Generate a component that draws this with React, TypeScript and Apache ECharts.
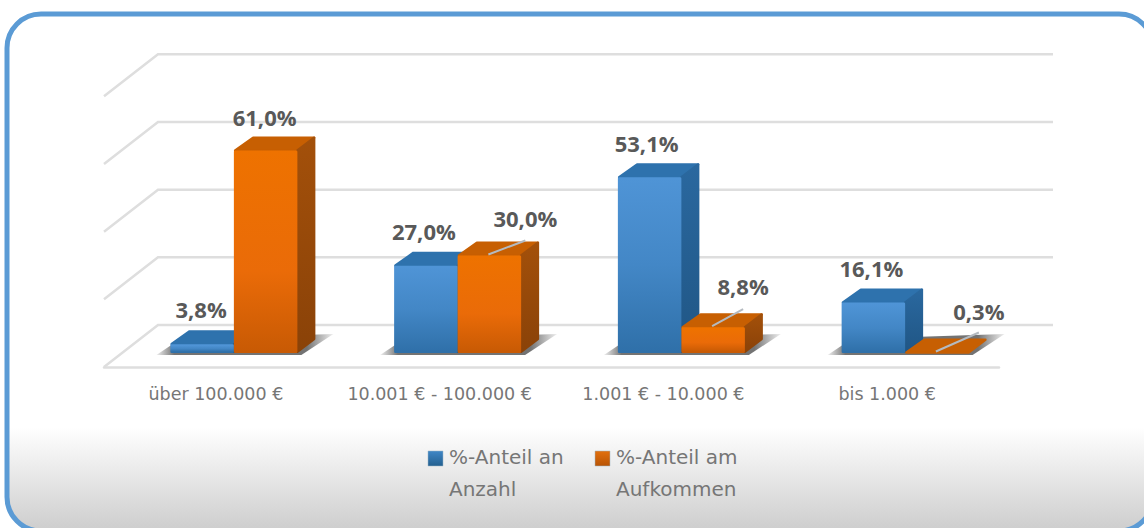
import React, { useEffect, useRef } from "react";
import * as echarts from "echarts";

const categories = ["über 100.000 €", "10.001 € - 100.000 €", "1.001 € - 10.000 €", "bis 1.000 €"];
const anzahl = [3.8, 27.0, 53.1, 16.1];
const aufkommen = [61.0, 30.0, 8.8, 0.3];
const legendLines = [["%-Anteil an", "Anzahl"], ["%-Anteil am", "Aufkommen"]];
const yTicks = [0, 20, 40, 60, 80];

// label placement, relative to the top-front centre of each bar
const anzahlLabelDx = [-1, -2, -3, -2];
const anzahlLabelDy = [-35, -35, -34, -35];
const aufkommenLabelDx = [-1, 36, 30, 42];
const aufkommenLabelDy = [-34, -37, -41, -42];
// leader-line ends for the labels moved away from their bars (null = none)
const aufkommenLeader: (number[] | null)[] = [null, [36, -15], [30, -18], [42, -20]];

const LABEL_FONT = "'Open Sans'";
const TEXT_FONT = "DejaVu Sans";
const TEXT = "#595959";
const SOFT_TEXT = "#767676";
const DEPTH_X = 54;
const DEPTH_Y = 42;
const BAR_DX = 18;
const BAR_DY = 14;
const BAR_W = 63.5;
const TOP_INSET = 4;

const grad = (stops: [number, string][]) => ({
  type: "linear", x: 0, y: 0, x2: 0, y2: 1,
  colorStops: stops.map(([offset, color]) => ({ offset, color })),
});

const palettes = [
  {
    front: grad([[0, "#4f94d6"], [0.5, "#4387c6"], [1, "#2f70a9"]]),
    top: "#2e72ad",
    side: grad([[0, "#2a689f"], [1, "#205685"]]),
  },
  {
    front: grad([[0, "#ee7200"], [0.6, "#ea6b08"], [1, "#c85a04"]]),
    top: "#c75f02",
    side: grad([[0, "#a3500a"], [1, "#8a4208"]]),
  },
];

const poly = (points: number[][], fill: any) => ({
  type: "polygon",
  shape: { points },
  style: { fill, stroke: fill, lineWidth: 2.5, lineJoin: "round" },
});

function barSeries(name: string, values: number[], idx: number, dxs: number[], dys: number[], leaders: (number[] | null)[]) {
  const pal = palettes[idx];
  return {
    type: "custom",
    name,
    silent: true,
    data: values.map((v, i) => [i, v]),
    encode: { x: 0, y: 1 },
    renderItem: (_: any, api: any) => {
      const i = api.value(0);
      const v = api.value(1);
      const top = api.coord([i, v]);
      const base = api.coord([i, 0]);
      const x0 = base[0] + BAR_DX + (idx === 0 ? -BAR_W : 0);
      const x1 = x0 + BAR_W;
      const yb = base[1] - BAR_DY;
      const yt = Math.min(top[1] - BAR_DY + TOP_INSET, yb - 0.5);
      const s = 1.25;
      const children: any[] = [
        poly([[x0 + s, yt], [x0 + BAR_DX + s, yt - BAR_DY + s], [x1 + BAR_DX - s, yt - BAR_DY + s], [x1, yt]], pal.top),
      ];
      if (yb - yt > 3) {
        children.push(poly([[x1, yt], [x1 + BAR_DX - s, yt - BAR_DY + s], [x1 + BAR_DX - s, yb - BAR_DY], [x1, yb - s]], pal.side));
        children.push(poly([[x0 + s, yt + s], [x1 - s, yt + s], [x1 - s, yb - s], [x0 + s, yb - s]], pal.front));
      }
      const cx = (x0 + x1) / 2;
      const leader = leaders[i];
      if (leader) {
        children.push({
          type: "line",
          shape: { x1: cx - 1, y1: yt - 1, x2: cx + leader[0], y2: yt + leader[1] },
          style: { stroke: "#b4bac0", lineWidth: 2 },
        });
      }
      children.push({
        type: "text",
        x: cx + dxs[i],
        y: yt + dys[i],
        style: {
          text: v.toFixed(1).replace(".", ",") + "%",
          fill: TEXT,
          font: `bold 22px ${LABEL_FONT}`,
          align: "center",
          verticalAlign: "middle",
        },
      });
      return { type: "group", children };
    },
  };
}

function legendItem(x: number, lines: string[], color: string, dark: string) {
  return {
    type: "group",
    children: [
      {
        type: "rect",
        shape: { x, y: 451, width: 15, height: 15 },
        style: { fill: { type: "linear", x: 0, y: 0, x2: 0, y2: 1, colorStops: [{ offset: 0, color }, { offset: 1, color: dark }] }, stroke: "#9fb4c6", lineWidth: 0.5 },
      },
      {
        type: "text",
        x: x + 21,
        y: 457,
        style: { text: lines[0], fill: SOFT_TEXT, font: `20px '${TEXT_FONT}'`, verticalAlign: "middle" },
      },
      {
        type: "text",
        x: x + 21,
        y: 489,
        style: { text: lines[1], fill: SOFT_TEXT, font: `20px '${TEXT_FONT}'`, verticalAlign: "middle" },
      },
    ],
  };
}

export default function App() {
  const ref = useRef<HTMLDivElement>(null);
  useEffect(() => {
    document.body.style.margin = "0";
    const chart = echarts.init(ref.current!, undefined, { renderer: "svg" });
    chart.setOption({
      animation: false,
      backgroundColor: "#ffffff",
      textStyle: { fontFamily: TEXT_FONT },
      grid: { left: 104, right: 145, top: 96.3, height: 270.7, containLabel: false },
      xAxis: {
        type: "category",
        data: categories,
        axisLine: { show: true, lineStyle: { color: "#dedede", width: 2.5 } },
        axisTick: { show: false },
        splitLine: { show: false },
        axisLabel: { color: SOFT_TEXT, fontFamily: TEXT_FONT, fontSize: 17.5, margin: 18, interval: 0 },
      },
      yAxis: {
        type: "value",
        min: 0,
        max: 80,
        interval: 20,
        axisLine: { show: false },
        axisTick: { show: false },
        axisLabel: { show: false },
        splitLine: { show: false },
      },
      graphic: {
        elements: [
          {
            type: "rect",
            z: -10,
            silent: true,
            shape: { x: 7, y: 14, width: 1146, height: 517, r: 34 },
            style: {
              stroke: "#5b9bd5",
              lineWidth: 5,
              fill: { type: "linear", x: 0, y: 0, x2: 0, y2: 1, colorStops: [{ offset: 0, color: "#ffffff" }, { offset: 0.8, color: "#ffffff" }, { offset: 1, color: "#cdcdcd" }] },
            },
          },
          legendItem(428, legendLines[0], "#3f86c6", "#24608f"),
          legendItem(595, legendLines[1], "#e2700f", "#b85405"),
        ],
      },
      series: [
        {
          type: "custom",
          silent: true,
          data: yTicks.map((t) => [0, t]),
          encode: { x: 0, y: 1 },
          renderItem: (params: any, api: any) => {
            const p = api.coord([0, api.value(1)]);
            const size = api.size([1, 0]);
            const x0 = p[0] - size[0] / 2;
            const x1 = x0 + size[0] * categories.length;
            return {
              type: "polyline",
              shape: { points: [[x0, p[1]], [x0 + DEPTH_X, p[1] - DEPTH_Y], [x1 + DEPTH_X, p[1] - DEPTH_Y]] },
              style: { fill: "none", stroke: "#dedede", lineWidth: 2.5 },
            };
          },
        },
        {
          type: "custom",
          silent: true,
          data: categories.map((_, i) => [i, 0]),
          encode: { x: 0, y: 1 },
          renderItem: (_: any, api: any) => {
            const p = api.coord([api.value(0), 0]);
            const xl = p[0] + BAR_DX - BAR_W;
            const xr = p[0] + BAR_DX + BAR_W;
            const y = p[1] - BAR_DY;
            return {
              type: "polygon",
              shape: { points: [[xl - 14, y + 2], [xl + 10, y - 14], [xr + 36, y - 19], [xr + 4, y + 2]] },
              style: {
                fill: {
                  type: "linear", x: 0, y: 0, x2: 1, y2: 0,
                  colorStops: [
                    { offset: 0, color: "rgba(90,90,90,0.1)" },
                    { offset: 0.1, color: "rgba(80,80,80,0.8)" },
                    { offset: 0.85, color: "rgba(80,80,80,0.8)" },
                    { offset: 1, color: "rgba(90,90,90,0.1)" },
                  ],
                },
              },
            };
          },
        },
        barSeries(legendLines[0].join(" "), anzahl, 0, anzahlLabelDx, anzahlLabelDy, anzahl.map(() => null)),
        barSeries(legendLines[1].join(" "), aufkommen, 1, aufkommenLabelDx, aufkommenLabelDy, aufkommenLeader),
      ],
    });
    return () => chart.dispose();
  }, []);
  return <div ref={ref} style={{ position: "absolute", left: 0, top: 0, width: 1144, height: 528 }} />;
}
